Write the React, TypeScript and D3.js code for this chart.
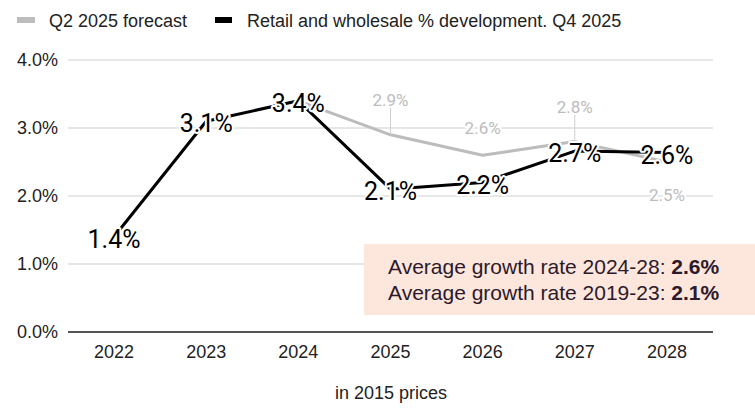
import React from 'react';
import * as d3 from 'd3';

const years = ['2022', '2023', '2024', '2025', '2026', '2027', '2028'];
// Retail and wholesale % development, Q4 2025
const actualValues = [1.4, 3.1, 3.4, 2.1, 2.2, 2.66, 2.64];
// Q2 2025 forecast (from 2024 on)
const forecastYears = ['2024', '2025', '2026', '2027', '2028'];
const forecastValues = [3.4, 2.9, 2.6, 2.8, 2.5];
// label placement for forecast labels (px offset from point, leader line or not)
const forecastLabelOffset = [null, -35, -27, -35, 33];
const forecastLeader = [false, true, false, true, false];
const yTicks = [0, 1, 2, 3, 4];
const legendItems = ['Q2 2025 forecast', 'Retail and wholesale % development. Q4 2025'];
const noteLines = [
  { text: 'Average growth rate 2024-28: ', value: '2.6%' },
  { text: 'Average growth rate 2019-23: ', value: '2.1%' },
];

const W = 755;
const H = 415;
const margin = { top: 60, right: 42, bottom: 83, left: 68 };
const FONT = 'Arial, "Liberation Sans", sans-serif';
const LABEL_FONT = 'Roboto, Arial, sans-serif';
const GRAY = '#bcbcbc';

const App = () => {
  const x = d3.scaleBand<string>().domain(years).range([margin.left, W - margin.right]).padding(0);
  const y = d3.scaleLinear().domain([0, 4]).range([H - margin.bottom, margin.top]);
  const cx = (yr: string) => (x(yr) as number) + x.bandwidth() / 2;

  const line = d3.line<[string, number]>().x(d => cx(d[0])).y(d => y(d[1]));
  const actual: [string, number][] = years.map((yr, i) => [yr, actualValues[i]]);
  const forecast: [string, number][] = forecastYears.map((yr, i) => [yr, forecastValues[i]]);
  const fmt = (v: number) => d3.format('.1f')(v) + '%';

  return (
    <svg width={W} height={H} style={{ position: 'absolute', left: 0, top: 0, background: '#fff' }}>
      {/* legend */}
      <g fontFamily={FONT} fontSize={18} fill="#222">
        <rect x={17} y={17} width={18} height={6} fill={GRAY} />
        <text x={49} y={26.5}>{legendItems[0]}</text>
        <rect x={215} y={17} width={17} height={6} fill="#000" />
        <text x={247} y={26.5}>{legendItems[1]}</text>
      </g>

      {/* grid + y axis */}
      <g fontFamily={FONT} fontSize={18} fill="#222">
        {yTicks.map(t => (
          <g key={t}>
            {t > 0 && (
              <line x1={margin.left} x2={W - margin.right} y1={y(t)} y2={y(t)} stroke="#cfcfcf" strokeWidth={1} />
            )}
            <text x={58} y={y(t)} dy="0.35em" textAnchor="end">{d3.format('.1f')(t) + '%'}</text>
          </g>
        ))}
      </g>

      {/* annotation box */}
      <rect x={364} y={244} width={W - 364} height={71} fill="#fde6db" />
      <g fontFamily={FONT} fontSize={21} fill="#2b1a2b">
        {noteLines.map((n, i) => (
          <text key={i} x={388} y={274 + i * 26}>
            {n.text}
            <tspan fontWeight="bold">{n.value}</tspan>
          </text>
        ))}
      </g>

      {/* zero axis */}
      <line x1={margin.left} x2={W - margin.right} y1={y(0)} y2={y(0)} stroke="#555" strokeWidth={2} />

      {/* x axis labels */}
      <g fontFamily={FONT} fontSize={18} fill="#222">
        {years.map(yr => (
          <text key={yr} x={cx(yr)} y={358} textAnchor="middle">{yr}</text>
        ))}
      </g>

      {/* lines */}
      <path d={line(forecast) || ''} fill="none" stroke={GRAY} strokeWidth={3} strokeLinejoin="round" />
      <path d={line(actual) || ''} fill="none" stroke="#000" strokeWidth={3} strokeLinejoin="round" />

      {/* forecast labels */}
      <g fontFamily={LABEL_FONT} fontSize={17} fill={GRAY}>
        {forecast.map((d, i) => {
          const off = forecastLabelOffset[i];
          if (off === null) return null;
          const px = cx(d[0]);
          const py = y(d[1]);
          const ly = py + off;
          return (
            <g key={d[0]}>
              {forecastLeader[i] && (
                <line x1={px} x2={px} y1={ly + 8} y2={py} stroke="#cfcfcf" strokeWidth={1} />
              )}
              <text x={px} y={ly} dy="0.35em" textAnchor="middle"
                stroke="#fff" strokeWidth={4} strokeLinejoin="round" paintOrder="stroke">
                {fmt(d[1])}
              </text>
            </g>
          );
        })}
      </g>

      {/* actual labels */}
      <g fontFamily={LABEL_FONT} fontSize={25} fill="#000">
        {actual.map(d => (
          <text key={d[0]} x={cx(d[0])} y={y(d[1])} dy="0.45em" textAnchor="middle"
            stroke="#fff" strokeWidth={4} strokeLinejoin="round" paintOrder="stroke">
            {fmt(d[1])}
          </text>
        ))}
      </g>

      {/* caption */}
      <text x={391} y={399} textAnchor="middle" fontFamily={FONT} fontSize={18} fill="#222">in 2015 prices</text>
    </svg>
  );
};

export default App;
